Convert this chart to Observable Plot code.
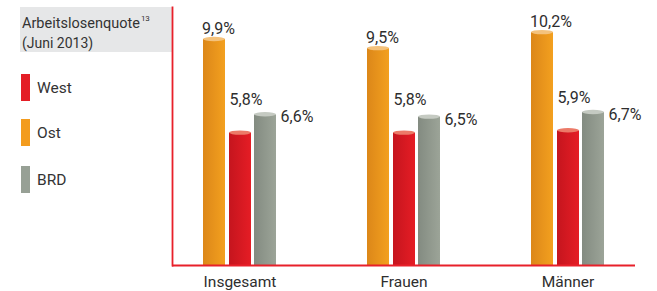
<!DOCTYPE html>
<html><head><meta charset="utf-8">
<script src="https://cdn.jsdelivr.net/npm/d3@7"></script>
<script src="https://cdn.jsdelivr.net/npm/@observablehq/plot@0.6"></script>
<style>
html,body{margin:0;padding:0;background:#fff;}
#wrap{position:relative;width:657px;height:291px;font-family:Roboto,"Noto Sans",sans-serif;}
#wrap svg{position:absolute;left:0;top:0;}
</style>
</head><body>
<svg width="0" height="0" style="position:absolute">
  <defs>
    <linearGradient id="grad-Ost" x1="0" x2="1" y1="0" y2="0">
      <stop offset="0" stop-color="#dc8719"/><stop offset="1" stop-color="#f3a01f"/>
    </linearGradient>
    <linearGradient id="grad-West" x1="0" x2="1" y1="0" y2="0">
      <stop offset="0" stop-color="#c5151e"/><stop offset="1" stop-color="#e51d25"/>
    </linearGradient>
    <linearGradient id="grad-BRD" x1="0" x2="1" y1="0" y2="0">
      <stop offset="0" stop-color="#838b81"/><stop offset="1" stop-color="#9ca498"/>
    </linearGradient>
  </defs>
</svg>
<div id="wrap"></div>
<script>
// ---- data ----
const categories = ["Insgesamt", "Frauen", "Männer"];
const series = ["West", "Ost", "BRD"];
const westValues = [5.8, 5.8, 5.9];
const ostValues = [9.9, 9.5, 10.2];
const brdValues = [6.6, 6.5, 6.7];
const seriesColors = ["#e41e26", "#f39c1e", "#97a095"];
const capColors = ["#ec7a68", "#f4c27c", "#c5cac2"];
const titleText = "Arbeitslosenquote";
const titleNote = "13";
const subtitleText = "(Juni 2013)";

const valuesBySeries = {West: westValues, Ost: ostValues, BRD: brdValues};
const rows = series.flatMap(s => categories.map((c, i) => ({category: c, series: s, value: valuesBySeries[s][i]})));
const fmt = v => d3.format(".1f")(v).replace(".", ",") + "%";
const red = "#e8202a";

// bar placement within each group band (order: Ost, West, BRD)
const barLayout = {
  Ost:  {insetLeft: 0,  insetRight: 51},
  West: {insetLeft: 26, insetRight: 25},
  BRD:  {insetLeft: 51, insetRight: 0}
};
const labelLayout = {
  Ost:  {dx: -38, dy: -5.5},
  West: {dx: -10.5, dy: -28},
  BRD:  {dx: 40.5,  dy: 7.5}
};

const marks = [];
for (const s of ["Ost", "West", "BRD"]) {
  marks.push(Plot.barY(rows.filter(d => d.series === s), {
    x: "category", y: "value", fill: `url(#grad-${s})`, ...barLayout[s]
  }));
}
for (const s of ["Ost", "West", "BRD"]) {
  marks.push(Plot.text(rows.filter(d => d.series === s), {
    x: "category", y: "value", text: d => fmt(d.value),
    textAnchor: "start", lineAnchor: "bottom", fill: "#2e2e2e", fontSize: 16,
    ...labelLayout[s]
  }));
}
marks.push(Plot.ruleY([0], {stroke: red, strokeWidth: 1.8}));
marks.push(Plot.frame({anchor: "left", stroke: red, strokeWidth: 1.8}));

const chart = Plot.plot({
  width: 657, height: 291,
  marginLeft: 172, marginRight: 22, marginTop: 7, marginBottom: 26,
  style: {fontFamily: "Roboto, 'Noto Sans', sans-serif", fontSize: "15.5px", color: "#2e2e2e", background: "transparent"},
  x: {domain: categories, paddingInner: 0.555, paddingOuter: 0.189, label: null, tickSize: 0, tickPadding: 10},
  y: {domain: [0, 11.3], axis: null},
  marks
});
document.getElementById("wrap").appendChild(chart);

// cylinder caps on top of each bar
const capByFill = {};
series.forEach((s, i) => capByFill[`url(#grad-${s})`] = capColors[i]);
d3.select(chart).selectAll("g[aria-label='bar']").each(function () {
  const g = d3.select(this);
  const f = this.getAttribute("fill");
  g.selectAll("rect").each(function () {
    const x = +this.getAttribute("x"), y = +this.getAttribute("y"), w = +this.getAttribute("width");
    g.append("ellipse").attr("cx", x + w / 2).attr("cy", y).attr("rx", w / 2).attr("ry", 2.2)
      .attr("fill", capByFill[f] || "#fff");
  });
});

// header and legend
const leg = d3.select("#wrap").insert("svg", ":first-child").attr("width", 657).attr("height", 291)
  .style("font-family", "Roboto, 'Noto Sans', sans-serif");
leg.append("rect").attr("x", 20).attr("y", 7).attr("width", 152).attr("height", 45).attr("fill", "#e6e7e8");
const t = leg.append("text").attr("x", 22).attr("y", 28).attr("font-size", 14.5).attr("fill", "#333");
t.append("tspan").text(titleText);
t.append("tspan").attr("font-size", 8).attr("dy", -7).attr("dx", 1).text(titleNote);
leg.append("text").attr("x", 22).attr("y", 48).attr("font-size", 14).attr("fill", "#333").text(subtitleText);
const legendTops = [74, 119, 166];
series.forEach((s, i) => {
  leg.append("rect").attr("x", 21).attr("y", legendTops[i]).attr("width", 9).attr("height", 27).attr("fill", seriesColors[i]);
  leg.append("text").attr("x", 37).attr("y", legendTops[i] + 18.5).attr("font-size", 15.5).attr("fill", "#333").text(s);
});
</script>
</body></html>
